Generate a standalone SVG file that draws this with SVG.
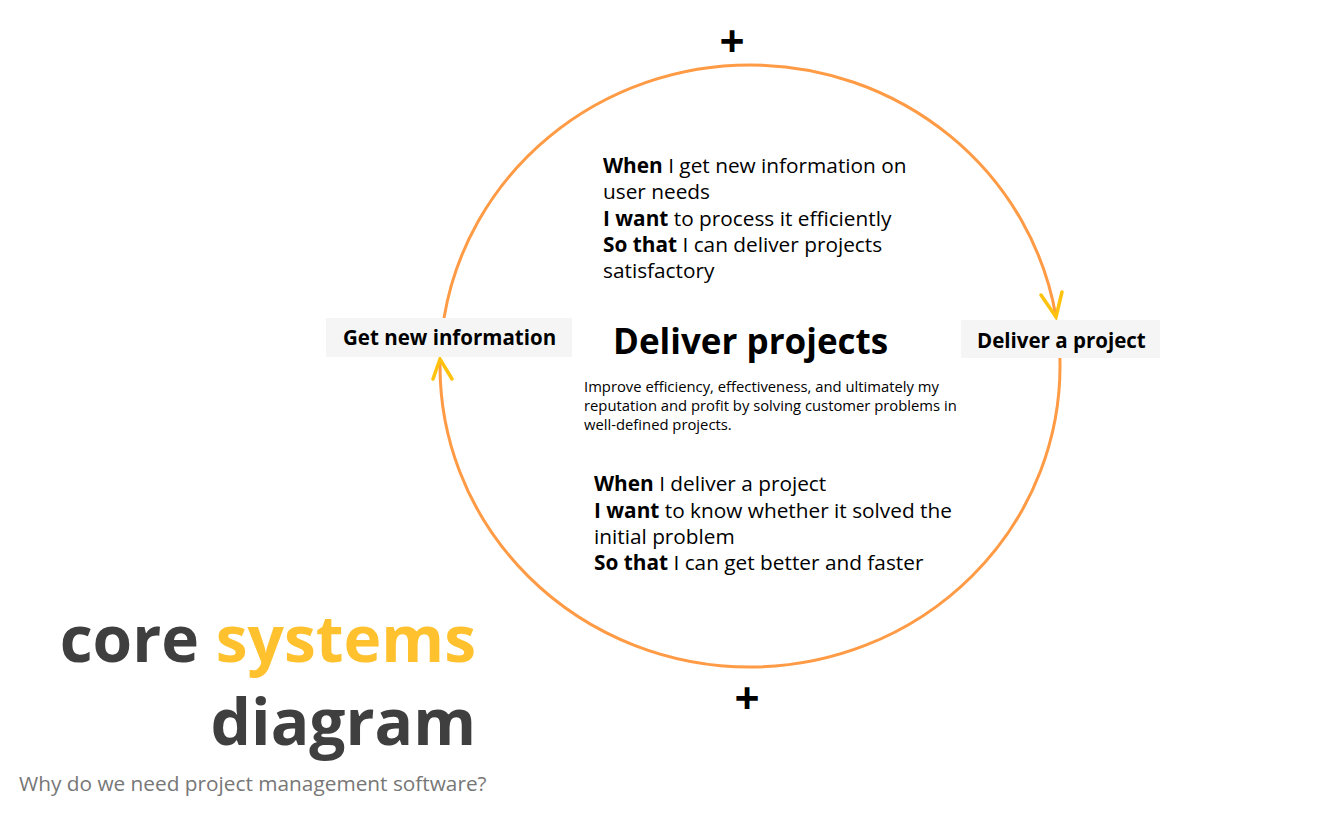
<svg xmlns="http://www.w3.org/2000/svg" width="1318" height="833" viewBox="0 0 1318 833">
  <defs>
    <style>
      text { font-family: "Open Sans", "Noto Sans", "Liberation Sans", sans-serif; fill: #000; }
      .loop { fill: none; stroke: #FF9A45; stroke-width: 3; }
      .head { fill: none; stroke: #FFC20E; stroke-width: 3.5; stroke-linecap: round; stroke-linejoin: miter; }
      .tag { fill: #F5F5F5; }
      .tagtxt { font-size: 20.5px; font-weight: 700; }
      .story { font-size: 20.8px; }
      .story tspan.k { font-weight: 700; }
      .plus { font-size: 44px; font-weight: 700; text-anchor: middle; }
      .title { font-size: 64px; font-weight: 700; fill: #3F3F3F; text-anchor: end; }
      .accent { fill: #FFC12E; }
      .sub { font-size: 20.8px; fill: #777; }
    </style>
  </defs>

  <!-- loop connectors: one ellipse (c 750,366  r 310x301) split in two arcs -->
  <g id="connectors">
    <path class="loop" d="M 444 318 A 310 301 0 0 1 750 65 A 310 301 0 0 1 1056 317"/>
    <path class="head" d="M 1041 295 L 1056 317 L 1062 292"/>
    <path class="loop" d="M 1059.9 358 A 310 301 0 0 1 750 667 A 310 301 0 0 1 440.1 359"/>
    <path class="head" d="M 433 379 L 440 359 L 452 379"/>
  </g>

  <text class="plus" x="732" y="57">+</text>
  <text class="plus" x="747" y="714">+</text>

  <g id="get-new-information">
    <rect class="tag" x="326" y="318" width="246" height="39"/>
    <text class="tagtxt" x="343" y="345">Get new information</text>
  </g>

  <g id="deliver-a-project">
    <rect class="tag" x="961" y="320" width="199" height="38"/>
    <text class="tagtxt" x="977" y="348">Deliver a project</text>
  </g>

  <g id="deliver-projects">
    <text x="613" y="354" font-size="35" font-weight="700">Deliver projects</text>
    <text font-size="14.8">
      <tspan x="584" y="392">Improve efficiency, effectiveness, and ultimately my</tspan>
      <tspan x="584" y="411">reputation and profit by solving customer problems in</tspan>
      <tspan x="584" y="430">well-defined projects.</tspan>
    </text>
  </g>

  <g id="story-information">
    <text class="story">
      <tspan x="603" y="173"><tspan class="k">When</tspan> I get new information on</tspan>
      <tspan x="603" y="199">user needs</tspan>
      <tspan x="603" y="226"><tspan class="k">I want</tspan> to process it efficiently</tspan>
      <tspan x="603" y="252"><tspan class="k">So that</tspan> I can deliver projects</tspan>
      <tspan x="603" y="278">satisfactory</tspan>
    </text>
  </g>

  <g id="story-delivery">
    <text class="story">
      <tspan x="594" y="491"><tspan class="k">When</tspan> I deliver a project</tspan>
      <tspan x="594" y="518"><tspan class="k">I want</tspan> to know whether it solved the</tspan>
      <tspan x="594" y="544">initial problem</tspan>
      <tspan x="594" y="570"><tspan class="k">So that</tspan> I can get better and faster</tspan>
    </text>
  </g>

  <g id="title">
    <text class="title" x="476" y="662">core <tspan class="accent">systems</tspan></text>
    <text class="title" x="476" y="745">diagram</text>
    <text class="sub" x="19" y="791">Why do we need project management software?</text>
  </g>
</svg>
